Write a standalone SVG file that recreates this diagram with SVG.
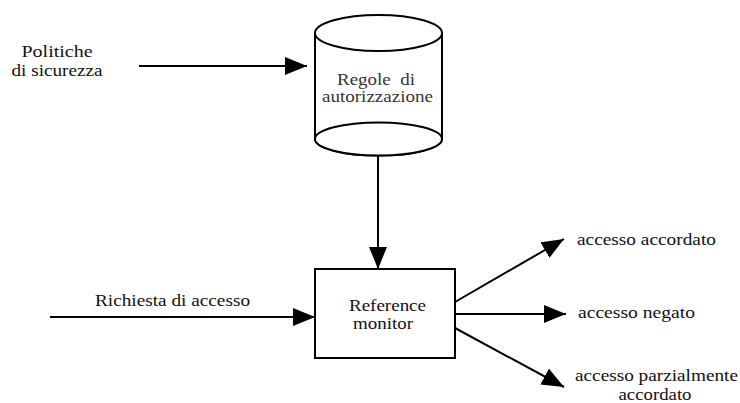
<svg xmlns="http://www.w3.org/2000/svg" width="740" height="403" viewBox="0 0 740 403">
<style>
.ln{stroke:#000;stroke-width:2;fill:none}
.sh{stroke:#000;stroke-width:2;fill:#fff}
text{font-family:"Liberation Serif","Times New Roman",Tinos,"DejaVu Serif",serif;font-size:16px;fill:#111}
.c{text-anchor:middle}
.g{fill:#333}
</style>
<defs>
<marker id="ah" markerUnits="userSpaceOnUse" markerWidth="22" markerHeight="18" refX="22" refY="9" orient="auto" viewBox="0 0 22 18">
<path d="M0,0 L22,9 L0,18 Z" fill="#000"/>
</marker>
</defs>
<g id="connectors">
<line class="ln" x1="139" y1="66" x2="307" y2="66" marker-end="url(#ah)"/>
<line class="ln" x1="378" y1="155" x2="378" y2="269" marker-end="url(#ah)"/>
<line class="ln" x1="50" y1="317" x2="315" y2="317" marker-end="url(#ah)"/>
<line class="ln" x1="455" y1="302" x2="564" y2="239" marker-end="url(#ah)"/>
<line class="ln" x1="455" y1="314" x2="566" y2="314" marker-end="url(#ah)"/>
<line class="ln" x1="455" y1="328" x2="564" y2="387" marker-end="url(#ah)"/>
</g>
<g id="politiche">
<text class="c" x="57" y="57" textLength="71" lengthAdjust="spacingAndGlyphs">Politiche</text>
<text class="c" x="57" y="76" textLength="91" lengthAdjust="spacingAndGlyphs">di sicurezza</text>
</g>
<g id="regole">
<path class="sh" d="M315,33 L315,139 A63.5,16.5 0 0 0 442,139 L442,33"/>
<ellipse class="sh" cx="378.5" cy="139" rx="63.5" ry="16.5"/>
<ellipse class="sh" cx="378.5" cy="33" rx="63.5" ry="18"/>
<text class="c g" x="376" y="85" textLength="78" lengthAdjust="spacingAndGlyphs" xml:space="preserve">Regole  di</text>
<text class="c g" x="377.5" y="102" textLength="111" lengthAdjust="spacingAndGlyphs">autorizzazione</text>
</g>
<g id="richiesta">
<text class="c" x="172.5" y="306" textLength="155" lengthAdjust="spacingAndGlyphs">Richiesta di accesso</text>
</g>
<g id="monitor">
<rect class="sh" x="315" y="269" width="140" height="89"/>
<text class="c" x="387.5" y="311" textLength="77" lengthAdjust="spacingAndGlyphs">Reference</text>
<text class="c" x="383" y="329" textLength="60" lengthAdjust="spacingAndGlyphs">monitor</text>
</g>
<g id="accordato">
<text x="577" y="245" textLength="139" lengthAdjust="spacingAndGlyphs">accesso accordato</text>
</g>
<g id="negato">
<text x="578" y="318" textLength="117" lengthAdjust="spacingAndGlyphs">accesso negato</text>
</g>
<g id="parziale">
<text x="575" y="381" textLength="163" lengthAdjust="spacingAndGlyphs">accesso parzialmente</text>
<text class="c" x="655" y="400" textLength="73" lengthAdjust="spacingAndGlyphs">accordato</text>
</g>
</svg>
